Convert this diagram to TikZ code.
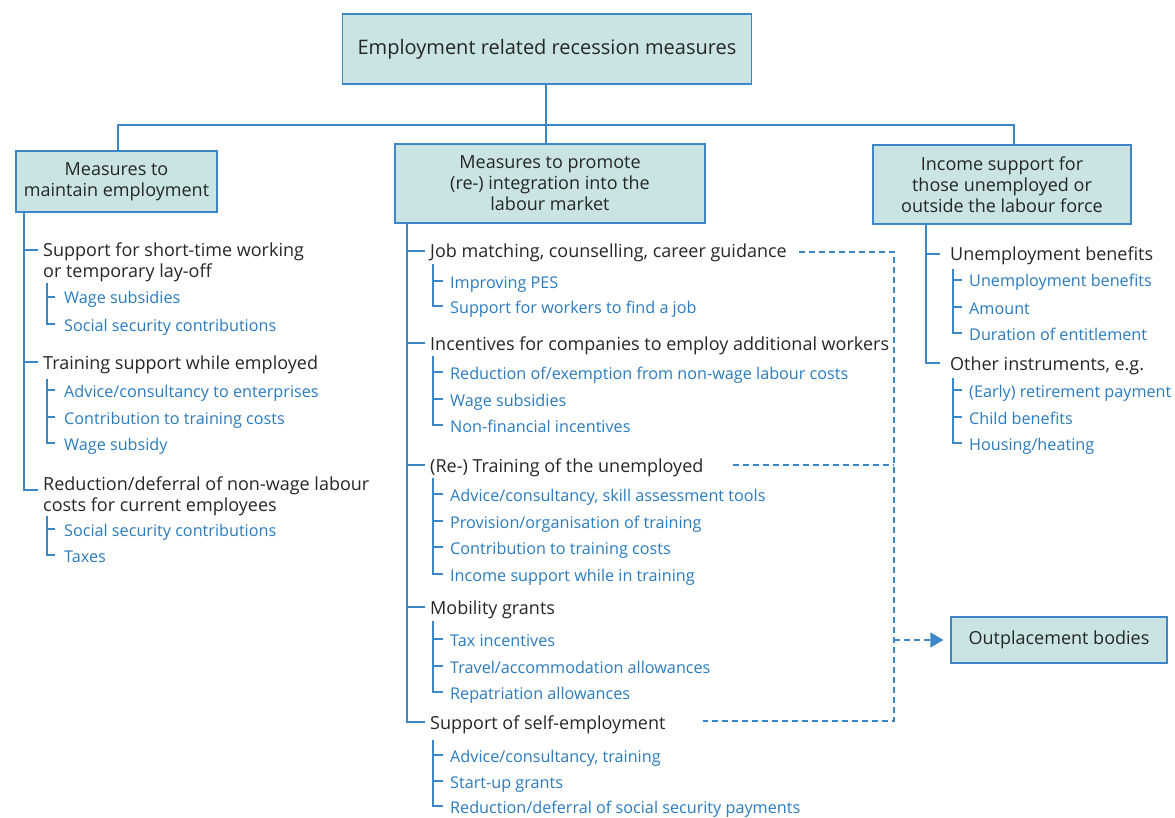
\documentclass[tikz,border=0pt]{standalone}
\usepackage{fontspec}
\setmainfont{Open Sans}
\usetikzlibrary{arrows.meta}
\definecolor{boxfill}{HTML}{C9E4E3}
\definecolor{lineblue}{HTML}{3B87C8}
\definecolor{txtblue}{HTML}{2A7BBF}
\definecolor{txtdark}{HTML}{262626}
\newcommand\itm[5]{\node[#1] (#2) at (#3,#4+7) {#5};}
\newcommand\tkc[2]{\coordinate (#1t) at ([xshift=-#2,yshift=7pt]#1.base west);}
\newcommand\tkd[3]{\tkc{#1}{#3}\draw[tree] (#1t) -- (#1t -| #2);}
\begin{document}
\begin{tikzpicture}[x=1pt,y=-1pt,
  box/.style={draw=lineblue, fill=boxfill, line width=1.2pt, inner sep=0pt, align=center, text=txtdark, font=\fontsize{18}{21}\selectfont},
  item/.style={anchor=base west, inner sep=0pt, text=txtdark, font=\fontsize{18}{21}\selectfont},
  sub/.style={anchor=base west, inner sep=0pt, text=txtblue, font=\fontsize{16.2}{20}\selectfont},
  tree/.style={draw=lineblue, line width=1.3pt},
  dashline/.style={draw=lineblue, line width=1.3pt, dash pattern=on 6pt off 4pt}]
\useasboundingbox (0,0) rectangle (1175,818);

% boxes
\node[box, minimum width=409pt, minimum height=70pt, font=\fontsize{20}{23}\selectfont] (T) at (547,49) {Employment related recession measures};
\node[box, minimum width=201pt, minimum height=61pt] (L) at (116.5,181.5) {Measures to\\maintain employment};
\node[box, minimum width=310pt, minimum height=79pt] (M) at (550,183.5) {Measures to promote\\(re-) integration into the\\labour market};
\node[box, minimum width=258pt, minimum height=79pt] (R) at (1002,184.5) {Income support for\\those unemployed or\\outside the labour force};
\node[box, minimum width=216pt, minimum height=46pt] (O) at (1059,640) {Outplacement bodies};

% top connectors
\coordinate (hub) at (546,125);
\coordinate (hl) at (118,125);
\coordinate (hr) at (1014,125);
\coordinate (Lx) at (24,0);
\coordinate (Mx) at (407,0);
\coordinate (Rx) at (926,0);
\draw[tree] (hub |- T.south) -- (hub);
\draw[tree] (hl |- L.north) -- (hl) -- (hr) -- (hr |- R.north);
\draw[tree] (hub) -- (hub |- M.north);

% left column
\itm{item}{l1}{43}{250}{Support for short-time working}
\itm{item}{l1x}{43}{271}{or temporary lay-off}
\itm{sub}{l1a}{64}{297}{Wage subsidies}
\itm{sub}{l1b}{64}{324}{Social security contributions}
\itm{item}{l2}{43}{362}{Training support while employed}
\itm{sub}{l2a}{64}{390}{Advice/consultancy to enterprises}
\itm{sub}{l2b}{64}{417}{Contribution to training costs}
\itm{sub}{l2c}{64}{443}{Wage subsidy}
\itm{item}{l3}{43}{483}{Reduction/deferral of non-wage labour}
\itm{item}{l3x}{43}{504}{costs for current employees}
\itm{sub}{l3a}{64}{529}{Social security contributions}
\itm{sub}{l3b}{64}{555}{Taxes}

\tkd{l1}{Lx}{5pt}
\tkd{l2}{Lx}{5pt}
\draw[tree] (L.south -| Lx) |- ([xshift=-5pt]l3.base west);

\coordinate (s1) at (47,283);
\tkd{l1a}{s1}{9pt}
\tkc{l1b}{9pt}
\draw[tree] (s1) |- (l1bt);
\coordinate (s2) at (47,379);
\tkd{l2a}{s2}{9pt}
\tkd{l2b}{s2}{9pt}
\tkc{l2c}{9pt}
\draw[tree] (s2) |- (l2ct);
\coordinate (s3) at (47,516);
\tkd{l3a}{s3}{9pt}
\tkc{l3b}{9pt}
\draw[tree] (s3) |- (l3bt);

% middle column
\itm{item}{m1}{430}{251}{Job matching, counselling, career guidance}
\itm{sub}{m1a}{450}{281}{Improving PES}
\itm{sub}{m1b}{450}{306}{Support for workers to find a job}
\itm{item}{m2}{430}{343}{Incentives for companies to employ additional workers}
\itm{sub}{m2a}{450}{372}{Reduction of/exemption from non-wage labour costs}
\itm{sub}{m2b}{450}{399}{Wage subsidies}
\itm{sub}{m2c}{450}{425}{Non-financial incentives}
\itm{item}{m3}{430}{465}{(Re-) Training of the unemployed}
\itm{sub}{m3a}{450}{494}{Advice/consultancy, skill assessment tools}
\itm{sub}{m3b}{450}{521}{Provision/organisation of training}
\itm{sub}{m3c}{450}{547}{Contribution to training costs}
\itm{sub}{m3d}{450}{574}{Income support while in training}
\itm{item}{m4}{430}{607}{Mobility grants}
\itm{sub}{m4a}{450}{639}{Tax incentives}
\itm{sub}{m4b}{450}{666}{Travel/accommodation allowances}
\itm{sub}{m4c}{450}{692}{Repatriation allowances}
\itm{item}{m5}{430}{722}{Support of self-employment}
\itm{sub}{m5a}{450}{755}{Advice/consultancy, training}
\itm{sub}{m5b}{450}{781}{Start-up grants}
\itm{sub}{m5c}{450}{806}{Reduction/deferral of social security payments}

\tkd{m1}{Mx}{5pt}
\tkd{m2}{Mx}{5pt}
\tkd{m3}{Mx}{5pt}
\tkd{m4}{Mx}{5pt}
\tkc{m5}{5pt}
\draw[tree] (M.south -| Mx) |- (m5t);

\coordinate (n1) at (433,264);
\tkd{m1a}{n1}{7pt}
\tkc{m1b}{7pt}
\draw[tree] (n1) |- (m1bt);
\coordinate (n2) at (433,356);
\tkd{m2a}{n2}{7pt}
\tkd{m2b}{n2}{7pt}
\tkc{m2c}{7pt}
\draw[tree] (n2) |- (m2ct);
\coordinate (n3) at (433,478);
\tkd{m3a}{n3}{7pt}
\tkd{m3b}{n3}{7pt}
\tkd{m3c}{n3}{7pt}
\tkc{m3d}{7pt}
\draw[tree] (n3) |- (m3dt);
\coordinate (n4) at (433,621);
\tkd{m4a}{n4}{7pt}
\tkd{m4b}{n4}{7pt}
\tkc{m4c}{7pt}
\draw[tree] (n4) |- (m4ct);
\coordinate (n5) at (433,740);
\tkd{m5a}{n5}{7pt}
\tkd{m5b}{n5}{7pt}
\tkc{m5c}{7pt}
\draw[tree] (n5) |- (m5ct);

% right column
\itm{item}{r1}{950}{254}{Unemployment benefits}
\itm{sub}{r1a}{969}{280}{Unemployment benefits}
\itm{sub}{r1b}{969}{307}{Amount}
\itm{sub}{r1c}{969}{333}{Duration of entitlement}
\itm{item}{r2}{950}{363}{Other instruments, e.g.}
\itm{sub}{r2a}{969}{390}{(Early) retirement payment}
\itm{sub}{r2b}{969}{417}{Child benefits}
\itm{sub}{r2c}{969}{443}{Housing/heating}

\tkd{r1}{Rx}{10pt}
\tkc{r2}{10pt}
\draw[tree] (R.south -| Rx) |- (r2t);
\coordinate (q1) at (953,269);
\tkd{r1a}{q1}{7pt}
\tkd{r1b}{q1}{7pt}
\tkc{r1c}{7pt}
\draw[tree] (q1) |- (r1ct);
\coordinate (q2) at (953,378);
\tkd{r2a}{q2}{7pt}
\tkd{r2b}{q2}{7pt}
\tkc{r2c}{7pt}
\draw[tree] (q2) |- (r2ct);

% dashed links to outplacement bodies
\coordinate (d1) at (799,252);
\coordinate (d3) at (733,465);
\coordinate (d5) at (703,721);
\coordinate (dx) at (894,0);
\draw[dashline] (d1) -- (d1 -| dx) -- (d5 -| dx) -- (d5);
\draw[dashline] (d3) -- (d3 -| dx);
\draw[dashline, -{Triangle[length=13pt,width=15pt]}] (dx |- O.west) -- ([xshift=-7pt]O.west);
\end{tikzpicture}
\end{document}
